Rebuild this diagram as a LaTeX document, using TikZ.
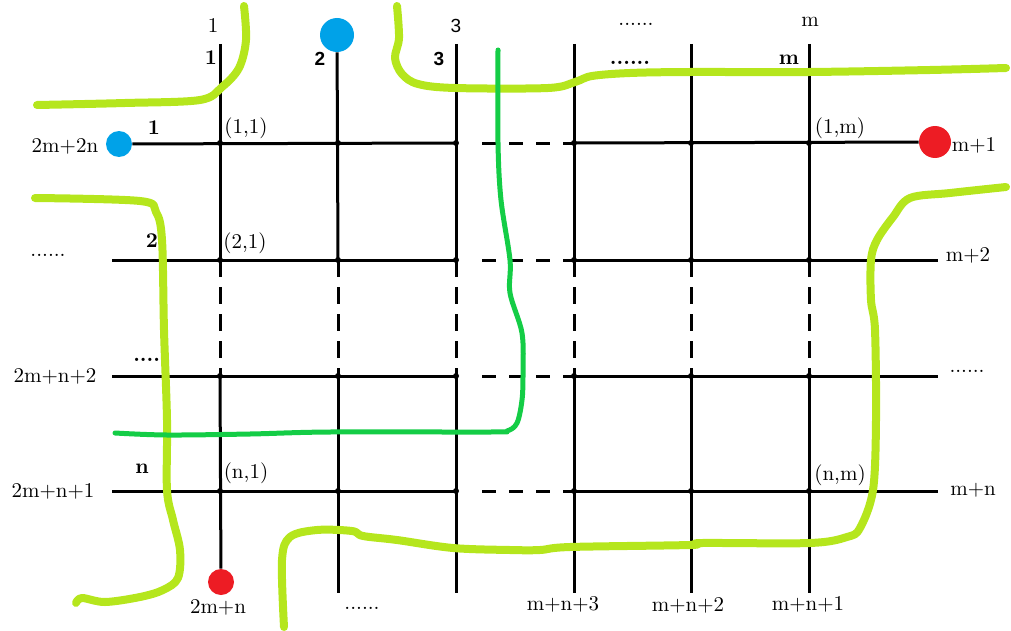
\documentclass[tikz,border=0pt]{standalone}
\usepackage{fontspec}
\setsansfont{Liberation Sans}
\definecolor{ygreen}{RGB}{181,230,29}
\definecolor{dgreen}{RGB}{20,205,70}
\definecolor{pblue}{RGB}{0,162,232}
\definecolor{pred}{RGB}{237,28,36}
\begin{document}
\begin{tikzpicture}[x=0.5pt,y=-0.5pt,
  grid/.style={line width=1.5pt, black},
  dashv/.style={grid, dash pattern=on 8.5pt off 5pt},
  dashh/.style={grid, dash pattern=on 7pt off 6.5pt},
  junction/.style={circle, fill=black, inner sep=0pt, minimum size=3pt},
  lbl/.style={font=\fontsize{10.5}{12}\selectfont, inner sep=0pt},
  blbl/.style={font=\fontsize{10.5}{12}\selectfont\bfseries, inner sep=0pt},
  slbl/.style={font=\fontsize{9.5}{11}\selectfont\sffamily, inner sep=0pt},
  sblbl/.style={font=\fontsize{9.5}{11}\selectfont\sffamily\bfseries, inner sep=0pt},
  spot/.style={circle, inner sep=0pt, draw=none},
  ycurve/.style={ygreen, line width=4pt, line cap=round, line join=round},
  gcurve/.style={dgreen, line width=2.5pt, line cap=round, line join=round}
]
\useasboundingbox (0,0) rectangle (1011,631);

% intersections
\foreach \j/\x in {1/220,2/338,3/456,4/574,5/691,6/809}{
  \foreach \i/\y in {1/143,2/260,3/376,4/491}{
    \coordinate (p-\i-\j) at (\x,\y);
  }
  \coordinate (t-\j) at (\x,44);
  \coordinate (b-\j) at (\x,593);
}
\foreach \i/\y in {1/143,2/260,3/376,4/491}{
  \coordinate (l-\i) at (112,\y);
  \coordinate (r-\i) at (938,\y);
  \coordinate (ds-\i) at (482,\y);
}

% coloured spots
\node[spot, fill=pblue, minimum size=17pt] (blueT) at (337,35) {};
\node[spot, fill=pblue, minimum size=13pt] (blueL) at (119,144) {};
\node[spot, fill=pred, minimum size=16pt] (redR) at (935,142) {};
\node[spot, fill=pred, minimum size=13pt] (redB) at (221,582) {};

% vertical lines
\draw[grid] (t-1) -- (p-2-1);
\draw[grid] (blueT) -- (p-2-2);
\foreach \j in {3,...,6}{ \draw[grid] (t-\j) -- (p-2-\j); }
\foreach \j in {1,...,6}{ \draw[dashv] (p-2-\j) -- (p-3-\j); }
\draw[grid] (p-3-1) -- (redB);
\foreach \j in {2,...,6}{ \draw[grid] (p-3-\j) -- (b-\j); }

% horizontal lines
\draw[grid] (blueL) -- (p-1-3);
\draw[dashh] (ds-1) -- (p-1-4);
\draw[grid] (p-1-4) -- (redR);
\foreach \i in {2,3,4}{
  \draw[grid] (l-\i) -- (p-\i-3);
  \draw[dashh] (ds-\i) -- (p-\i-4);
  \draw[grid] (p-\i-4) -- (r-\i);
}

% junction dots
\foreach \i in {1,...,4}{
  \foreach \j in {1,...,6}{
    \node[junction] (d-\i-\j) at (p-\i-\j) {};
  }
}

% top labels
\node[lbl] (n1) at (213,26) {1};
\node[slbl] (n3) at (456,26) {3};
\node[lbl] (ndt) at (636,24) {......};
\node[lbl] (nm) at (810,22) {m};
\node[blbl] (bn1) at (211,58) {1};
\node[sblbl] (bn2) at (320,59) {2};
\node[sblbl] (bn3) at (439,59) {3};
\node[blbl] (bndt) at (630,63) {......};
\node[blbl] (bnm) at (789,60) {m};

% left labels
\node[lbl] (w1) at (65,146) {2m+2n};
\node[lbl] (w2) at (48,255) {......};
\node[lbl] (w3) at (55,376) {2m+n+2};
\node[lbl] (w4) at (53,491) {2m+n+1};
\node[blbl] (bw1) at (154,128) {1};
\node[blbl] (bw2) at (152,241) {2};
\node[blbl] (bw3) at (150,360) {.....};
\node[blbl] (bw4) at (142,469) {n};

% coordinate labels
\node[lbl] (c11) at (246,128) {(1,1)};
\node[lbl] (c21) at (245,243) {(2,1)};
\node[lbl] (cn1) at (246,473) {(n,1)};
\node[lbl] (c1m) at (840,128) {(1,m)};
\node[lbl] (cnm) at (840,475) {(n,m)};

% right labels
\node[lbl] (e1) at (974,145) {m+1};
\node[lbl] (e2) at (968,255) {m+2};
\node[lbl] (e3) at (967,371) {......};
\node[lbl] (e4) at (973,490) {m+n};

% bottom labels
\node[lbl] (s1) at (218,607) {2m+n};
\node[lbl] (s2) at (362,608) {......};
\node[lbl] (s3) at (563,604) {m+n+3};
\node[lbl] (s4) at (688,605) {m+n+2};
\node[lbl] (s5) at (808,604) {m+n+1};

% hand-drawn curves
\draw[ycurve] plot[smooth, tension=0.55] coordinates {(37,105) (125,103) (200,100) (222,87) (239,68) (246,40) (244,6)};
\draw[ycurve] plot[smooth, tension=0.55] coordinates {(397,6) (399,38) (395,58) (402,74) (418,84) (455,88) (548,88) (575,82) (592,76) (630,73) (690,72) (809,72) (930,70) (1006,68)};
\draw[ycurve] plot[smooth, tension=0.55] coordinates {(35,198) (140,201) (156,212) (162,240) (164,330) (167,420) (167,490) (173,520) (180,550) (178,578) (163,590) (140,597) (105,602) (82,598) (76,603)};
\draw[ycurve] plot[smooth, tension=0.55] coordinates {(284,627) (282,560) (290,537) (317,530) (352,531) (363,536) (397,540) (453,548) (510,550) (540,550) (570,547) (690,545) (702,543) (810,543) (847,537) (860,528) (873,490) (876,420) (875,330) (871,300) (871,260) (877,240) (893,217) (910,198) (950,193) (1006,187)};
\draw[gcurve] plot[smooth, tension=0.55] coordinates {(498,50) (498,143) (501,200) (510,260) (510,293) (522,333) (523,373) (522,400) (517,423) (507,431) (490,432) (330,432) (250,434) (167,435) (115,433)};
\end{tikzpicture}
\end{document}
